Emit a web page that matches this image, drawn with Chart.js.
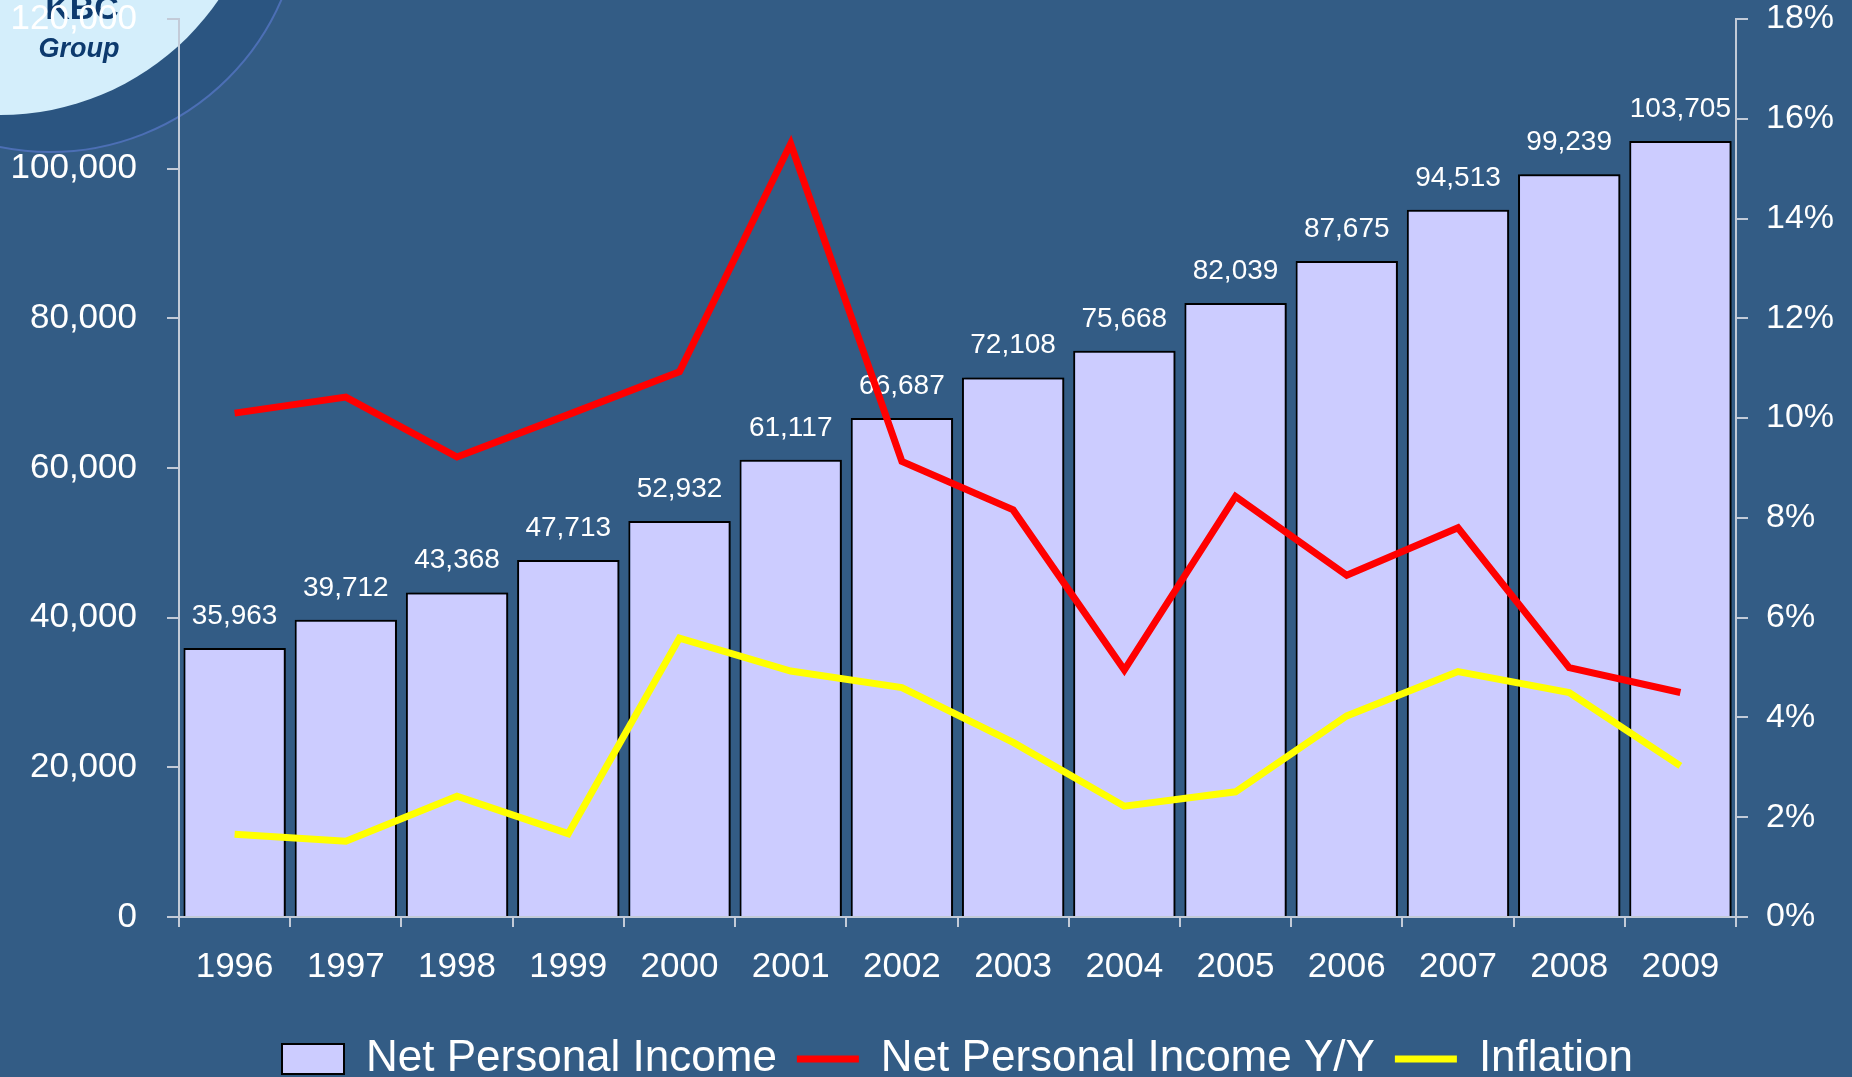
<!DOCTYPE html>
<html>
<head>
<meta charset="utf-8">
<script src="https://cdn.jsdelivr.net/npm/chart.js@4.4.1/dist/chart.umd.min.js"></script>
<style>
  html, body { margin: 0; padding: 0; background: #335C85; overflow: hidden; }
  #wrap { width: 1852px; height: 1077px; }
</style>
</head>
<body>
<div id="wrap"><canvas id="incomeChart"></canvas></div>
<script>
const years = ['1996', '1997', '1998', '1999', '2000', '2001', '2002', '2003', '2004', '2005', '2006', '2007', '2008', '2009'];
const netIncome = [35963, 39712, 43368, 47713, 52932, 61117, 66687, 72108, 75668, 82039, 87675, 94513, 99239, 103705];
// percent values, right axis
const incomeGrowth = [10.1, 10.42, 9.22, 10.07, 10.93, 15.5, 9.13, 8.16, 4.95, 8.43, 6.85, 7.8, 5.0, 4.5];
const inflation = [1.66, 1.52, 2.42, 1.67, 5.59, 4.93, 4.6, 3.5, 2.22, 2.51, 4.03, 4.92, 4.5, 3.03];

const axisGray = '#C3CBD8';
Chart.defaults.font.family = '"Liberation Sans", Arial, sans-serif';

// background + KBC logo corner
const backdrop = {
  id: 'backdrop',
  beforeDraw(chart) {
    const c = chart.ctx;
    c.save();
    c.fillStyle = '#335C85';
    c.fillRect(0, 0, chart.width, chart.height);
    c.beginPath();
    c.arc(50, -100, 252, 0, Math.PI * 2);
    c.fillStyle = '#2B5581';
    c.fill();
    c.lineWidth = 2;
    c.strokeStyle = '#4C6FB5';
    c.stroke();
    c.beginPath();
    c.arc(0, -150, 265, 0, Math.PI * 2);
    c.fillStyle = '#D4EEFB';
    c.fill();
    c.fillStyle = '#0D3A6E';
    c.textAlign = 'center';
    c.font = 'bold 34px "Liberation Sans"';
    c.fillText('KBC', 82, 10);
    c.font = 'italic bold 27px "Liberation Sans"';
    c.fillText('Group', 79, 50);
    c.restore();
  }
};

// bar shadow and value labels
const barValues = {
  id: 'barValues',
  beforeDatasetDraw(chart, args) {
    if (args.index !== 0) return;
    const c = chart.ctx;
    c.save();
    c.shadowColor = 'rgba(0,0,0,0.55)';
    c.shadowOffsetX = 3;
    c.shadowOffsetY = 0;
    c.shadowBlur = 2;
  },
  afterDatasetDraw(chart, args) {
    if (args.index !== 0) return;
    const c = chart.ctx;
    c.restore();
    c.save();
    c.font = '28px "Liberation Sans"';
    c.fillStyle = '#FFFFFF';
    c.textAlign = 'center';
    c.textBaseline = 'alphabetic';
    args.meta.data.forEach((bar, i) => {
      c.fillText(netIncome[i].toLocaleString('en-US'), bar.x, bar.y - 24);
    });
    c.restore();
  }
};

// fixed axis widths, and keep tick padding from pushing the plot down
function fixAxis(width) {
  return (scale) => {
    scale.width = width;
    scale.paddingTop = 19;
    scale.paddingBottom = 0;
  };
}

const ctx = document.getElementById('incomeChart').getContext('2d');
const incomeChart = new Chart(ctx, {
  data: {
    labels: years,
    datasets: [{
      type: 'bar',
      label: 'Net Personal Income',
      data: netIncome,
      yAxisID: 'y',
      backgroundColor: '#CCCCFF',
      borderColor: '#000000',
      borderWidth: 2,
      barPercentage: 0.92,
      categoryPercentage: 1,
      pointStyle: 'rect',
      order: 3
    }, {
      type: 'line',
      label: 'Net Personal Income Y/Y',
      data: incomeGrowth,
      yAxisID: 'y1',
      borderColor: '#FF0000',
      backgroundColor: '#FF0000',
      borderWidth: 7,
      pointRadius: 0,
      pointStyle: 'line',
      pointBorderColor: '#FF0000',
      pointBorderWidth: 7,
      order: 1
    }, {
      type: 'line',
      label: 'Inflation',
      data: inflation,
      yAxisID: 'y1',
      borderColor: '#FFFF00',
      backgroundColor: '#FFFF00',
      borderWidth: 7,
      pointRadius: 0,
      pointStyle: 'line',
      pointBorderColor: '#FFFF00',
      pointBorderWidth: 7,
      order: 2
    }]
  },
  options: {
    responsive: true,
    maintainAspectRatio: false,
    animation: false,
    layout: { padding: { top: 0, left: 0, right: 0, bottom: -14 } },
    plugins: {
      tooltip: { enabled: false },
      legend: {
        position: 'bottom',
        fullSize: false,
        labels: {
          color: '#FFFFFF',
          font: { size: 44 },
          usePointStyle: true,
          pointStyleWidth: 62,
          boxHeight: 30,
          padding: 20,
          sort: (a, b) => a.datasetIndex - b.datasetIndex
        }
      }
    },
    scales: {
      x: {
        grid: { drawOnChartArea: false, color: axisGray, lineWidth: 2, tickLength: 10, offset: true },
        border: { color: axisGray, width: 2 },
        ticks: { color: '#FFFFFF', font: { size: 35 }, padding: 19, maxRotation: 0 },
        afterFit(scale) { scale.height = 100; }
      },
      y: {
        position: 'left',
        min: 0,
        max: 120000,
        grid: { drawOnChartArea: false, color: axisGray, lineWidth: 2, tickLength: 12 },
        border: { color: axisGray, width: 2 },
        ticks: { stepSize: 20000, color: '#FFFFFF', font: { size: 35 }, padding: 30 },
        afterFit: fixAxis(179)
      },
      y1: {
        position: 'right',
        min: 0,
        max: 18,
        grid: { drawOnChartArea: false, color: axisGray, lineWidth: 2, tickLength: 12 },
        border: { color: axisGray, width: 2 },
        ticks: { stepSize: 2, color: '#FFFFFF', font: { size: 34 }, padding: 18, callback: (v) => v + '%' },
        afterFit: fixAxis(116)
      }
    }
  },
  plugins: [backdrop, barValues]
});
</script>
</body>
</html>
